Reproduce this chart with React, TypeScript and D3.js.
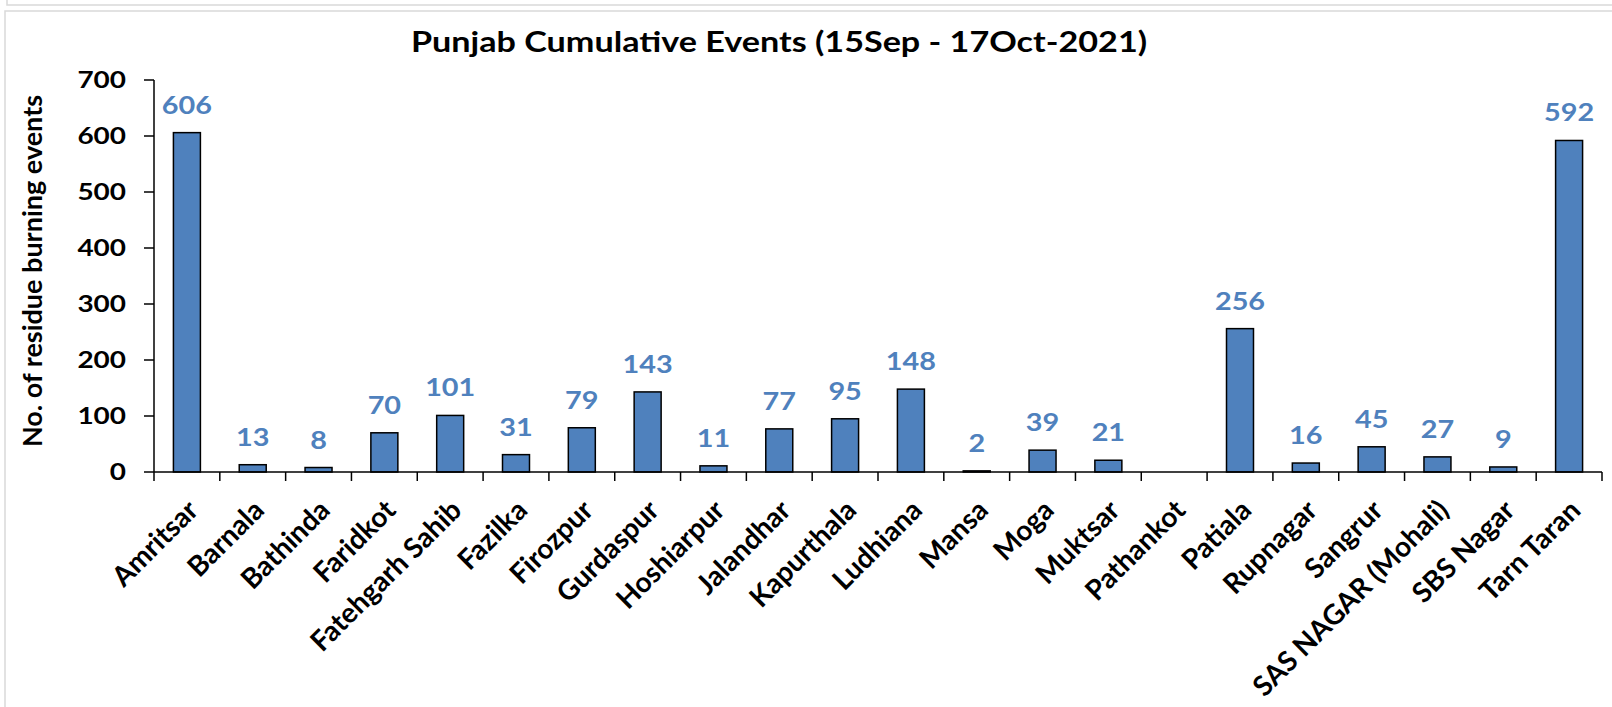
import React from "react";
import * as d3 from "d3";

const categories = ["Amritsar","Barnala","Bathinda","Faridkot","Fatehgarh Sahib","Fazilka","Firozpur","Gurdaspur","Hoshiarpur","Jalandhar","Kapurthala","Ludhiana","Mansa","Moga","Muktsar","Pathankot","Patiala","Rupnagar","Sangrur","SAS NAGAR (Mohali)","SBS Nagar","Tarn Taran"];
const values = [606,13,8,70,101,31,79,143,11,77,95,148,2,39,21,0,256,16,45,27,9,592];
const yTicks = [0,100,200,300,400,500,600,700];
const title = "Punjab Cumulative Events (15Sep - 17Oct-2021)";
const yTitle = "No. of residue burning events";

const W = 1612, H = 707;
const left = 154, right = 1602, top = 80, bottom = 472;
const FONT = "Lato, 'Open Sans', sans-serif";

export default function App() {
  const x = d3.scaleBand<string>().domain(categories).range([left, right]).paddingInner(0.59).paddingOuter(0.295);
  const step = (right - left) / categories.length;
  const y = d3.scaleLinear().domain([0, 700]).range([bottom, top]);
  const blue = "#4F81BD";
  return (
    <svg width={W} height={H} style={{ position: "absolute", left: 0, top: 0, background: "#fff" }} fontFamily={FONT}>
      <rect x={0} y={0} width={W} height={H} fill="#fff" />
      <rect x={7} y={-20} width={W + 20} height={25} fill="none" stroke="#d9d9d9" strokeWidth={1.5} />
      <rect x={5} y={11} width={W + 20} height={H + 20} fill="none" stroke="#d9d9d9" strokeWidth={1.5} />
      <text transform={`translate(779,52) scale(1.22,1)`} textAnchor="middle" fontSize={28} fontWeight="bold" fill="#000">{title}</text>
      <text transform={`translate(42,271) rotate(-90)`} textAnchor="middle" fontSize={27} fontWeight="bold" fill="#000">{yTitle}</text>
      {/* y axis */}
      <line x1={left} x2={left} y1={top} y2={bottom} stroke="#000" strokeWidth={1.5} />
      {yTicks.map(t => (
        <g key={t}>
          <line x1={left - 10} x2={left} y1={y(t)} y2={y(t)} stroke="#000" strokeWidth={1.5} />
          <text transform={`translate(126,${y(t)}) scale(1.27,1)`} dy="0.36em" textAnchor="end" fontSize={22} fontWeight="bold" fill="#000">{t}</text>
        </g>
      ))}
      {/* bars */}
      {categories.map((c, i) => (
        <rect key={c} x={x(c)!} y={y(values[i])} width={x.bandwidth()} height={bottom - y(values[i])} fill={blue} stroke="#000" strokeWidth={1.5} />
      ))}
      {/* x axis */}
      <line x1={left} x2={right} y1={bottom} y2={bottom} stroke="#000" strokeWidth={1.5} />
      {d3.range(categories.length + 1).map(i => (
        <line key={i} x1={left + i * step} x2={left + i * step} y1={bottom} y2={bottom + 9} stroke="#000" strokeWidth={1.5} />
      ))}
      {categories.map((c, i) => values[i] > 0 ? (
        <text key={c} transform={`translate(${x(c)! + x.bandwidth() / 2},${y(values[i]) - 19}) scale(1.2,1)`} textAnchor="middle" fontSize={24} fontWeight="bold" fill={blue}>{values[i]}</text>
      ) : null)}
      {categories.map(c => (
        <text key={c} transform={`translate(${x(c)! + x.bandwidth() / 2 + 13},${bottom + 40}) rotate(-45)`} textAnchor="end" fontSize={28} fontWeight="bold" fill="#000">{c}</text>
      ))}
    </svg>
  );
}
